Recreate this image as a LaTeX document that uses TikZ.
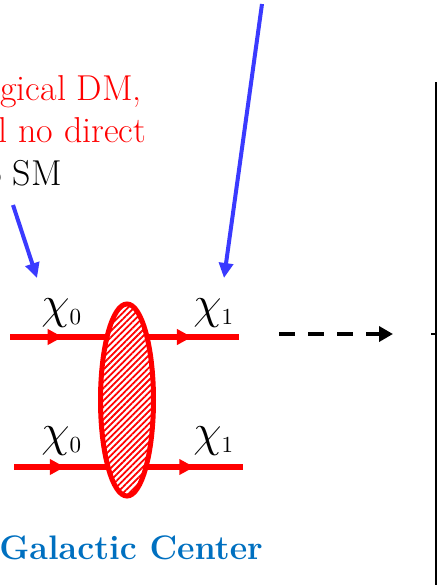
\documentclass[tikz,border=0pt]{standalone}
\usepackage{fix-cm}
\usepackage{amsmath}
\usepackage{fontspec}
\usetikzlibrary{arrows.meta,decorations.markings,shapes.geometric,patterns.meta}
\definecolor{dmred}{RGB}{255,0,0}
\definecolor{ptblue}{RGB}{58,58,255}
\definecolor{gcblue}{RGB}{0,112,192}
\tikzset{
  fline/.style={line width=3pt,dmred,postaction={decorate},decoration={markings,mark=at position #1 with {\arrow{Triangle[length=7.5pt,width=7.5pt]}}}},
  fline/.default=0.5,
  blob/.style={ellipse,draw=dmred,line width=2.5pt,minimum width=26.5pt,minimum height=96pt,inner sep=0pt,
    preaction={fill=white},pattern={Lines[angle=45,distance=2.2pt,line width=0.9pt]},pattern color=dmred},
  ptr/.style={ptblue,line width=2pt,-{Triangle[length=7.5pt,width=7pt]}},
  dline/.style={line width=1.8pt,dash pattern=on 8pt off 6.5pt,-{Triangle[length=7pt,width=7.5pt]}},
  frame/.style={line width=1.3pt},
  lab/.style={anchor=base west,inner sep=0pt,font=\fontsize{18}{22}\selectfont},
  plab/.style={anchor=base west,inner sep=0pt,font=\fontsize{23}{27}\selectfont},
  glab/.style={anchor=base west,inner sep=0pt,text=gcblue,font=\fontsize{17}{20}\selectfont\bfseries}
}
\newcommand{\pt}[1]{$\chi_{\scriptscriptstyle #1}$}
\begin{document}
\begin{tikzpicture}[x=0.5pt,y=-0.5pt]
  \useasboundingbox (0,0) rectangle (438,585);
  \clip (0,0) rectangle (438,585);
  % text on the left
  \node[lab,text=dmred] (dma) at (0,100) {gical DM,};
  \node[lab,text=dmred] (dmb) at (-2,142) {l no direct};
  \node[lab] (dmc) at (-15,185) {o SM};
  \node[glab] (gc) at (-1,559) {Galactic Center};
  % incoming and outgoing lines
  \coordinate (ina) at (10,337); \coordinate (va) at (127,337); \coordinate (outa) at (239,337);
  \coordinate (inb) at (14,467); \coordinate (vb) at (127,467); \coordinate (outb) at (243,467);
  \draw[fline=0.45] (ina) -- (va); \draw[fline=0.58] (va) -- (outa);
  \draw[fline=0.45] (inb) -- (vb); \draw[fline=0.58] (vb) -- (outb);
  \node[blob] (amp) at (127,400) {};
  \node[plab] (chia) at (41,318) {\pt{0}}; \node[plab] (chib) at (193,318) {\pt{1}};
  \node[plab] (chic) at (41,446) {\pt{0}}; \node[plab] (chid) at (193,446) {\pt{1}};
  % pointers
  \coordinate (sa) at (13,205); \coordinate (ta) at (37,278);
  \coordinate (sb) at (262,4); \coordinate (tb) at (224,278);
  \draw[ptr] (sa) -- (ta); \draw[ptr] (sb) -- (tb);
  % dashed arrow and frame edge
  \coordinate (da) at (279,334); \coordinate (db) at (393,334);
  \draw[dline] (da) -- (db);
  \coordinate (frt) at (436,82); \coordinate (frb) at (436,590); \coordinate (frm) at (436,334); \coordinate (frk) at (431,334);
  \draw[frame] (frt) -- (frb); \draw[frame] (frk) -- (frm);
\end{tikzpicture}
\end{document}
